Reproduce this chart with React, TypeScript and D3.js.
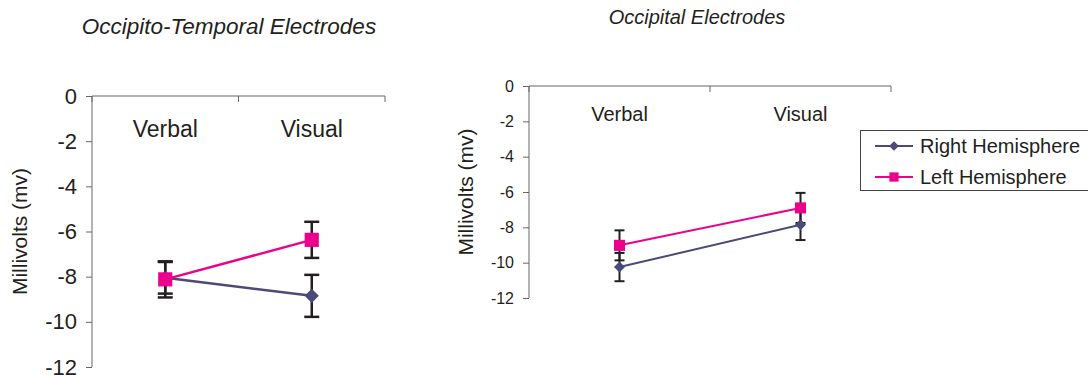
import React, {useEffect, useRef} from 'react';
import * as d3 from 'd3';

const categories = ["Verbal", "Visual"];
const yTicks = [0, -2, -4, -6, -8, -10, -12];

// Occipito-Temporal panel
const otRight = [-8.05, -8.85];
const otRightErr = [0.7, 0.93];
const otLeft = [-8.12, -6.37];
const otLeftErr = [0.8, 0.8];

// Occipital panel
const occRight = [-10.25, -7.85];
const occRightErr = [0.8, 0.87];
const occLeft = [-9.02, -6.9];
const occLeftErr = [0.85, 0.85];

const seriesNames = ["Right Hemisphere", "Left Hemisphere"];

const BLUE = "#4b4a78";
const PINK = "#ec008c";
const ERR = "#231f20";
const AXIS = "#666";
const FONT = "'Liberation Sans', Arial, sans-serif";

type Panel = {
  x0: number, x1: number, y0: number, y1: number,
  tickFont: number, catFont: number, catY: number,
  title: string, titleX: number, titleY: number, titleFont: number,
  labelX: number, labelFont: number,
  marker: number, cap: number, lineW: number,
  right: number[], rightErr: number[], left: number[], leftErr: number[]
};

function drawPanel(svg: d3.Selection<SVGSVGElement, unknown, null, undefined>, p: Panel) {
  const x = d3.scaleBand().domain(categories).range([p.x0, p.x1]);
  const y = d3.scaleLinear().domain([0, -12]).range([p.y0, p.y1]);
  const g = svg.append("g").attr("font-family", FONT);

  // title
  g.append("text")
  .attr("x", p.titleX).attr("y", p.titleY)
  .attr("text-anchor", "middle")
  .attr("font-style", "italic")
  .attr("font-size", p.titleFont)
  .attr("fill", "#231f20")
  .text(p.title);

  // y axis
  const yAxis = g.append("g")
  .attr("transform", "translate(" + p.x0 + ",0)")
  .call(d3.axisLeft(y).tickValues(yTicks).tickSize(6).tickPadding(9).tickFormat(d3.format("d")));
  yAxis.selectAll("line").attr("stroke", AXIS);
  yAxis.select(".domain").attr("stroke", AXIS).attr("d", "M0," + p.y0 + "V" + p.y1);
  yAxis.selectAll("text").attr("font-size", p.tickFont).attr("font-family", FONT).attr("fill", "#231f20")
  .text((d: any) => d < 0 ? "-" + Math.abs(d) : String(d));

  // top category axis at 0
  const bandEdges = [p.x0, p.x0 + x.bandwidth(), p.x1];
  g.append("line")
  .attr("x1", p.x0).attr("x2", p.x1)
  .attr("y1", y(0)).attr("y2", y(0))
  .attr("stroke", AXIS);
  g.selectAll(".ctick").data(bandEdges).enter().append("line")
  .attr("x1", d => d).attr("x2", d => d)
  .attr("y1", y(0)).attr("y2", y(0) + 6)
  .attr("stroke", AXIS);
  g.selectAll(".cat").data(categories).enter().append("text")
  .attr("x", d => x(d)! + x.bandwidth() / 2)
  .attr("y", p.catY)
  .attr("text-anchor", "middle")
  .attr("font-size", p.catFont)
  .attr("fill", "#231f20")
  .text(d => d);

  // y label
  g.append("text")
  .attr("transform", "translate(" + p.labelX + "," + (p.y0 + p.y1) / 2 + ") rotate(-90)")
  .attr("text-anchor", "middle")
  .attr("font-size", p.labelFont)
  .attr("fill", "#231f20")
  .text("Millivolts (mv)");

  const cx = (i: number) => x(categories[i])! + x.bandwidth() / 2;
  const series = [
    {vals: p.right, err: p.rightErr, color: BLUE, shape: d3.symbolDiamond2},
    {vals: p.left, err: p.leftErr, color: PINK, shape: d3.symbolSquare2}
  ];

  // error bars
  series.forEach(s => {
    s.vals.forEach((v, i) => {
      const eg = g.append("g").attr("stroke", ERR).attr("stroke-width", p.lineW);
      eg.append("line").attr("x1", cx(i)).attr("x2", cx(i)).attr("y1", y(v + s.err[i])).attr("y2", y(v - s.err[i]));
      [v + s.err[i], v - s.err[i]].forEach(e => {
        eg.append("line").attr("x1", cx(i) - p.cap / 2).attr("x2", cx(i) + p.cap / 2).attr("y1", y(e)).attr("y2", y(e));
      });
    });
  });

  // lines + markers
  series.forEach(s => {
    const line = d3.line<number>().x((_, i) => cx(i)).y(d => y(d));
    g.append("path").attr("d", line(s.vals)).attr("fill", "none").attr("stroke", s.color).attr("stroke-width", p.lineW);
  });
  series.forEach(s => {
    const size = s.shape === d3.symbolSquare2 ? p.marker * p.marker : p.marker * p.marker * 0.5;
    g.selectAll(null).data(s.vals).enter().append("path")
    .attr("d", d3.symbol().type(s.shape).size(size)())
    .attr("transform", (d, i) => "translate(" + cx(i) + "," + y(d) + ")")
    .attr("fill", s.color);
  });
}

const App: React.FC = () => {
  const ref = useRef<SVGSVGElement>(null);
  useEffect(() => {
    const svg = d3.select(ref.current!);
    svg.selectAll("*").remove();

    drawPanel(svg, {
      x0: 92, x1: 385, y0: 96, y1: 367,
      tickFont: 22, catFont: 23, catY: 137,
      title: "Occipito-Temporal Electrodes", titleX: 229, titleY: 34, titleFont: 22.5,
      labelX: 27, labelFont: 21,
      marker: 16, cap: 15, lineW: 2.5,
      right: otRight, rightErr: otRightErr, left: otLeft, leftErr: otLeftErr
    });

    drawPanel(svg, {
      x0: 529, x1: 891, y0: 86, y1: 298,
      tickFont: 16, catFont: 20, catY: 121,
      title: "Occipital Electrodes", titleX: 697, titleY: 24, titleFont: 20,
      labelX: 473, labelFont: 21,
      marker: 12.5, cap: 10, lineW: 2,
      right: occRight, rightErr: occRightErr, left: occLeft, leftErr: occLeftErr
    });

    // legend
    const lg = svg.append("g").attr("font-family", FONT);
    lg.append("rect").attr("x", 860.5).attr("y", 130.5).attr("width", 240).attr("height", 60)
    .attr("fill", "white").attr("stroke", "#444");
    const colors = [BLUE, PINK];
    const shapes = [d3.symbolDiamond2, d3.symbolSquare2];
    const ly = d3.scalePoint().domain(seriesNames).range([146, 177]);
    seriesNames.forEach((n, i) => {
      const yy = ly(n)!;
      lg.append("line").attr("x1", 875).attr("x2", 913).attr("y1", yy).attr("y2", yy)
      .attr("stroke", colors[i]).attr("stroke-width", 2);
      lg.append("path").attr("d", d3.symbol().type(shapes[i]).size(i === 0 ? 60 : 110)())
      .attr("transform", "translate(894," + yy + ")").attr("fill", colors[i]);
      lg.append("text").attr("x", 920).attr("y", yy + 7).attr("font-size", 20).attr("fill", "#231f20").text(n);
    });
  }, []);

  return (
    <svg ref={ref} width={1088} height={375} style={{position: "absolute", left: 0, top: 0, background: "white"}}/>
  );
};

export default App;
